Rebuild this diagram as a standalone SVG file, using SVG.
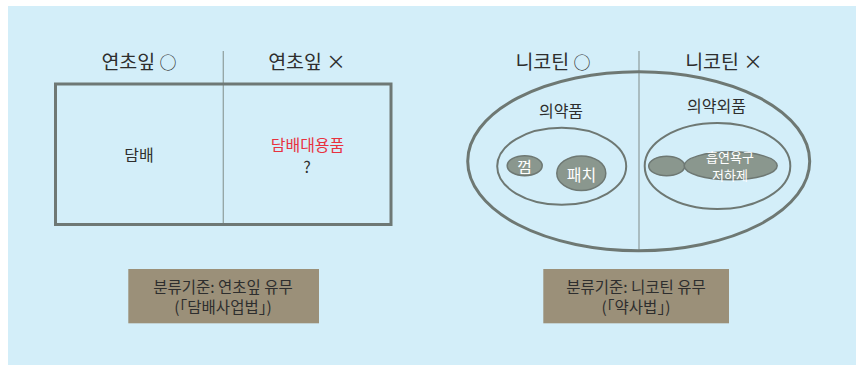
<svg xmlns="http://www.w3.org/2000/svg" width="856" height="365" viewBox="0 0 856 365">
<style>
text{font-family:"Noto Sans CJK KR","Noto Sans",sans-serif;text-anchor:middle;fill:#2e2e2e}
.h{font-size:19.5px}
.s{font-size:17px;fill:#2e2e2e}
.m{font-size:16px}
.b{font-size:15.5px}
.w{fill:#ffffff}
.div{stroke:#93a3a3;stroke-width:1.3;fill:none}
.ol{fill:none;stroke:#6e7873}
.bl{fill:#8a978e;stroke:#6e7873;stroke-width:1.5}
.box{fill:#9b9079}
</style>
<rect x="8" y="6" width="848" height="359" fill="#d3eef9"/>
<g id="connectors">
<line class="div" x1="223.3" y1="51" x2="223.3" y2="224"/>
<line class="div" x1="639" y1="51" x2="639" y2="250"/>
</g>
<g id="left-panel">
<text class="h" x="139" y="69">연초잎 <tspan class="s">○</tspan></text>
<text class="h" x="307" y="69">연초잎 ×</text>
<rect x="55.5" y="84" width="335.5" height="140.5" fill="none" stroke="#6e7875" stroke-width="3"/>
</g>
<g id="tobacco"><text class="m" x="139" y="161">담배</text></g>
<g id="substitute">
<text class="m" x="307.5" y="151" style="fill:#e8323f">담배대용품</text>
<text class="m" x="307" y="173">?</text>
</g>
<g id="right-panel">
<text class="h" x="553" y="69">니코틴 <tspan class="s">○</tspan></text>
<text class="h" x="724" y="69">니코틴 ×</text>
<ellipse class="ol" cx="638.7" cy="161.2" rx="171" ry="89.5" stroke-width="3"/>
</g>
<g id="medicine">
<ellipse class="ol" cx="561.7" cy="166.3" rx="64.5" ry="38.5" stroke-width="2"/>
<text class="m" x="561" y="116.5">의약품</text>
</g>
<g id="gum">
<ellipse class="bl" cx="524.7" cy="165.7" rx="17.5" ry="10"/>
<text class="m w" x="524.5" y="173">껌</text>
</g>
<g id="patch">
<ellipse class="bl" cx="581.3" cy="173.2" rx="24.5" ry="17.3"/>
<text class="m w" x="581.5" y="180.5">패치</text>
</g>
<g id="quasi-drug">
<ellipse class="ol" cx="717.5" cy="166" rx="72.8" ry="43" stroke-width="2"/>
<text class="m" x="716.5" y="111.5">의약외품</text>
</g>
<g id="small-blob">
<ellipse class="bl" cx="666.7" cy="166" rx="18" ry="9.8"/>
</g>
<g id="craving-reducer">
<ellipse class="bl" cx="730.7" cy="165.8" rx="46.5" ry="14"/>
<text class="w" x="730" y="161.5" style="font-size:13px">흡연욕구</text>
<text class="w" x="730" y="179.5" style="font-size:13px">저하제</text>
</g>
<g id="criterion-left">
<rect class="box" x="128.3" y="269" width="190.7" height="54.3"/>
<text class="b" x="223" y="292.5">분류기준: 연초잎 유무</text>
<text class="b" x="223" y="313">(「담배사업법」)</text>
</g>
<g id="criterion-right">
<rect class="box" x="543.3" y="269" width="185.7" height="54.3"/>
<text class="b" x="636" y="292.5">분류기준: 니코틴 유무</text>
<text class="b" x="636" y="313">(「약사법」)</text>
</g>
</svg>
